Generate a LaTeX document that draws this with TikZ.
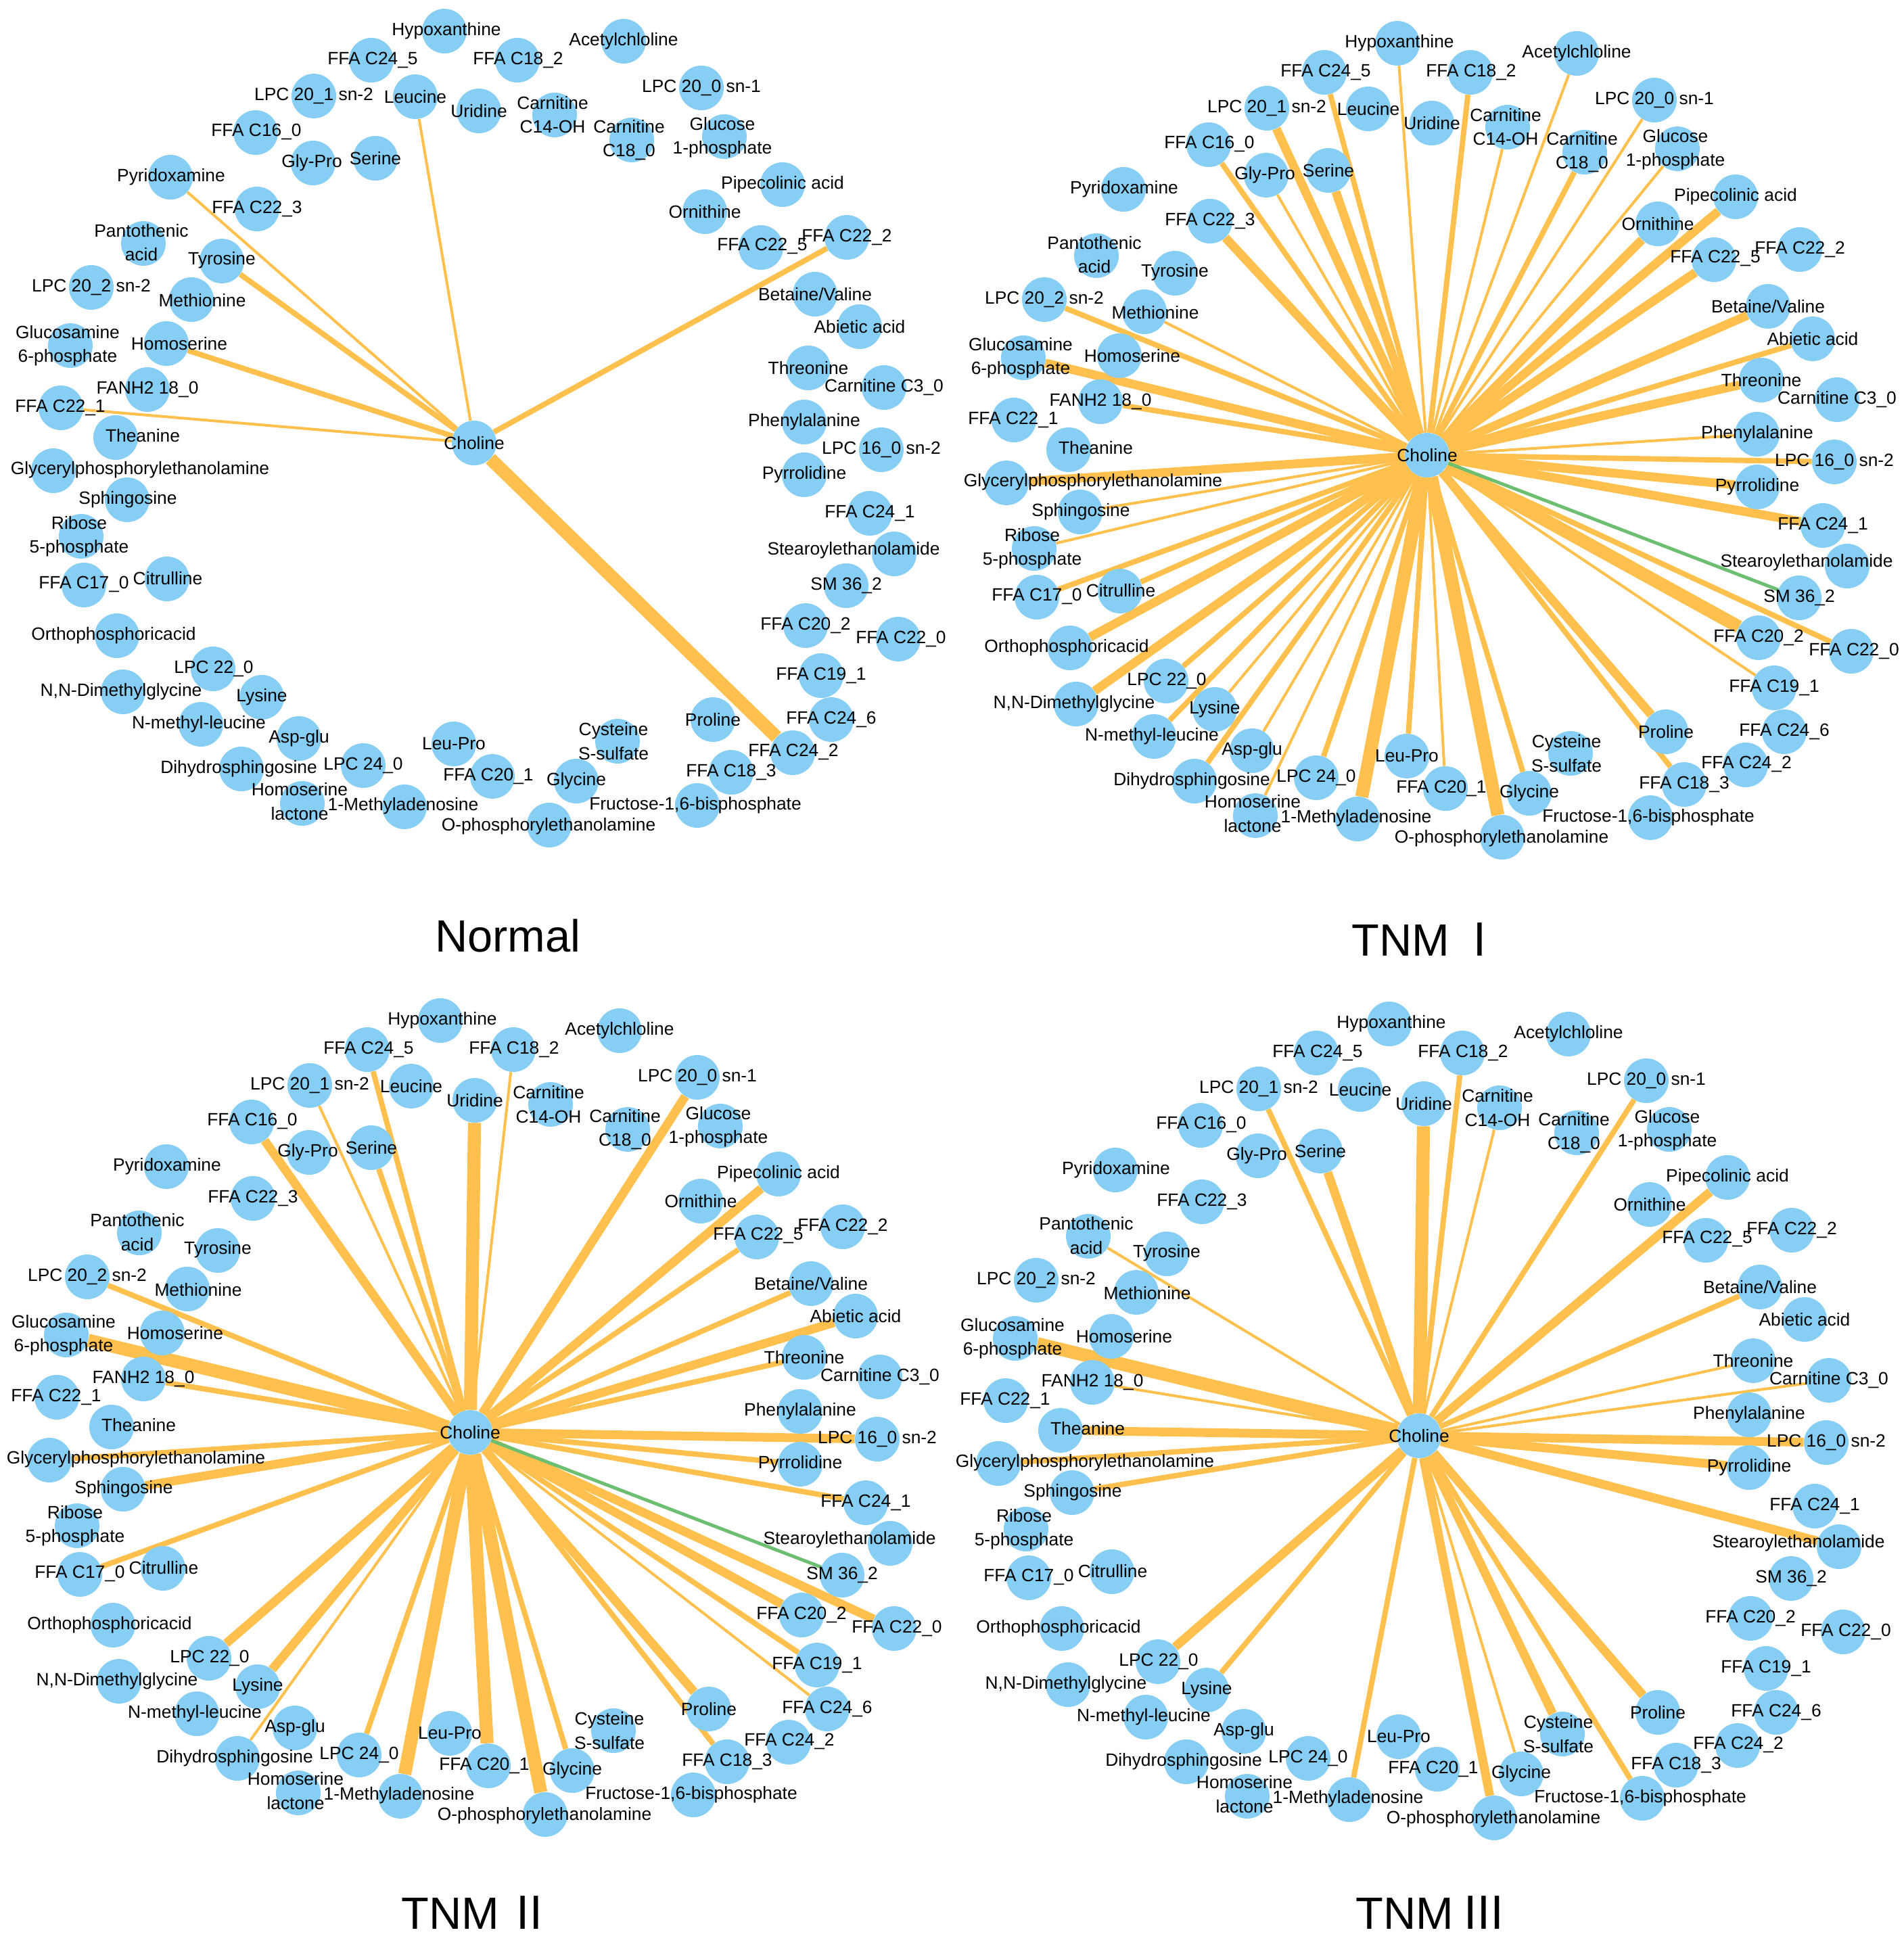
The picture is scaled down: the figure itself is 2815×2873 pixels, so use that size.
\documentclass[tikz,border=0pt]{standalone}
\usepackage{fontspec}
\setmainfont{Liberation Sans}
\newfontfamily\cjk{Noto Sans CJK SC}
\pgfdeclarelayer{bg}\pgfsetlayers{bg,main}
\begin{document}
\begin{tikzpicture}[x=0.02cm,y=-0.02cm,
  cir/.style={circle,fill=cb,draw=none,minimum size=1.32cm,inner sep=0pt},
  lab/.style={font=\fontsize{15}{20}\selectfont,align=center,inner sep=0pt},
  et/.style={draw=eo,line width=2.3pt},
  em/.style={draw=eo,line width=4.5pt},
  eT/.style={draw=eo,line width=7.4pt},
  eV/.style={draw=eo,line width=11pt},
  eg/.style={draw=eg,line width=2.8pt},
  ttl/.style={font=\fontsize{38}{44}\selectfont,inner sep=0pt}]
\definecolor{cb}{RGB}{135,206,245}
\definecolor{eo}{RGB}{255,192,77}
\definecolor{eg}{RGB}{108,190,112}
\useasboundingbox (0,0) rectangle (2815,2873);
\newcommand\nd[6]{\node[cir] (\pp#1) at (#2,#3) {}; \node[lab] at (#4,#5) {#6};}
\newcommand\allnodes{%
\nd{hyp}{657}{46}{660}{46}{Hypoxanthine}
\nd{fa}{549}{89}{551}{89}{FFA C24\_5}
\nd{fb}{765}{89}{766}{89}{FFA C18\_2}
\nd{ace}{922}{61}{922}{61}{Acetylchloline}
\nd{la}{464}{142}{464}{142}{LPC 20\_1 sn-2}
\nd{leu}{614}{143}{614}{143}{Leucine}
\nd{uri}{708}{164}{708}{164}{Uridine}
\nd{cfo}{820}{170}{817}{170}{Carnitine\\C14-OH}
\nd{lb}{1037}{130}{1037}{130}{LPC 20\_0 sn-1}
\nd{fc}{378}{196}{379}{195}{FFA C16\_0}
\nd{ceo}{934}{207}{930}{207}{Carnitine\\C18\_0}
\nd{glc}{1071}{202}{1068}{203}{Glucose\\1-phosphate}
\nd{gly}{463}{241}{461}{241}{Gly-Pro}
\nd{ser}{555}{234}{555}{234}{Serine}
\nd{pyr}{252}{262}{253}{262}{Pyridoxamine}
\nd{pip}{1157}{273}{1157}{273}{Pipecolinic acid}
\nd{fd}{380}{309}{380}{309}{FFA C22\_3}
\nd{orn}{1042}{313}{1042}{313}{Ornithine}
\nd{pan}{212}{360}{209}{359}{Pantothenic\\acid}
\nd{fe}{1125}{366}{1127}{364}{FFA C22\_5}
\nd{ff}{1252}{351}{1252}{351}{FFA C22\_2}
\nd{tyr}{328}{386}{328}{385}{Tyrosine}
\nd{lc}{135}{425}{135}{425}{LPC 20\_2 sn-2}
\nd{met}{283}{443}{299}{444}{Methionine}
\nd{bet}{1205}{435}{1205}{435}{Betaine/Valine}
\nd{abi}{1271}{483}{1271}{483}{Abietic acid}
\nd{gsm}{104}{511}{100}{511}{Glucosamine\\6-phosphate}
\nd{hom}{246}{508}{265}{508}{Homoserine}
\nd{thr}{1195}{544}{1195}{544}{Threonine}
\nd{fan}{218}{576}{218}{576}{FANH2 18\_0}
\nd{cth}{1307}{573}{1307}{573}{Carnitine C3\_0}
\nd{fg}{90}{603}{89}{603}{FFA C22\_1}
\nd{thea}{171}{647}{211}{644}{Theanine}
\nd{phe}{1189}{624}{1189}{624}{Phenylalanine}
\nd{ld}{1303}{665}{1303}{665}{LPC 16\_0 sn-2}
\nd{cho}{701}{655}{701}{655}{Choline}
\nd{gpe}{79}{696}{207}{695}{Glycerylphosphorylethanolamine}
\nd{pyrr}{1189}{702}{1189}{702}{Pyrrolidine}
\nd{sph}{188}{739}{189}{739}{Sphingosine}
\nd{fh}{1286}{759}{1286}{759}{FFA C24\_1}
\nd{rib}{120}{793}{117}{793}{Ribose\\5-phosphate}
\nd{ste}{1322}{819}{1262}{814}{Stearoylethanolamide}
\nd{sm}{1251}{866}{1251}{866}{SM 36\_2}
\nd{fi}{124}{865}{124}{864}{FFA C17\_0}
\nd{cit}{247}{856}{248}{855}{Citrulline}
\nd{orth}{173}{940}{168}{940}{Orthophosphoricacid}
\nd{fj}{1191}{925}{1191}{925}{FFA C20\_2}
\nd{fk}{1328}{945}{1332}{945}{FFA C22\_0}
\nd{le}{315}{989}{316}{989}{LPC 22\_0}
\nd{fl}{1214}{999}{1214}{999}{FFA C19\_1}
\nd{nnd}{182}{1023}{179}{1023}{N,N-Dimethylglycine}
\nd{lys}{387}{1031}{387}{1031}{Lysine}
\nd{nml}{297}{1071}{294}{1071}{N-methyl-leucine}
\nd{pro}{1054}{1064}{1054}{1064}{Proline}
\nd{fm}{1229}{1064}{1229}{1064}{FFA C24\_6}
\nd{asp}{442}{1092}{442}{1092}{Asp-glu}
\nd{cys}{913}{1096}{907}{1096}{Cysteine\\S-sulfate}
\nd{lpro}{671}{1100}{671}{1100}{Leu-Pro}
\nd{fn}{1172}{1113}{1173}{1112}{FFA C24\_2}
\nd{dih}{357}{1137}{353}{1137}{Dihydrosphingosine}
\nd{lf}{537}{1132}{537}{1132}{LPC 24\_0}
\nd{fo}{728}{1148}{722}{1148}{FFA C20\_1}
\nd{glyc}{852}{1155}{852}{1155}{Glycine}
\nd{fp}{1081}{1142}{1081}{1142}{FFA C18\_3}
\nd{hl}{447}{1188}{443}{1185}{Homoserine\\lactone}
\nd{mad}{598}{1193}{596}{1192}{1-Methyladenosine}
\nd{fru}{1031}{1191}{1028}{1191}{Fructose-1,6-bisphosphate}
\nd{ope}{812}{1220}{811}{1222}{O-phosphorylethanolamine}
}
\newcommand\edges[1]{\begin{pgfonlayer}{bg}\foreach \tg/\ww in {#1} {\draw[e\ww] (\pp cho) -- (\pp\tg);}\end{pgfonlayer}}
% Normal
\begin{scope}
\def\pp{a}
\allnodes
\edges{leu/t,pyr/t,tyr/m,hom/m,fg/t,ff/m,fn/V}
\end{scope}
% TNM I
\begin{scope}[shift={(1409,18)}]
\def\pp{b}
\allnodes
\edges{hyp/t,fa/m,la/T,fc/m,gly/t,ser/T,fd/T,met/t,lc/m,gsm/T,fan/m,gpe/T,sph/t,rib/t,fi/m,cit/m,orth/T,le/m,nnd/T,lys/t,nml/m,asp/t,dih/m,hl/t,lf/m,mad/V,lpro/m,fb/m,ace/t,cfo/t,ceo/m,lb/t,glc/t,orn/T,pip/T,fe/T,bet/T,abi/m,thr/T,phe/t,ld/m,pyrr/T,fh/T,fj/V,fk/m,fl/t,pro/T,fp/m,glyc/m,ope/V,fo/t,sm/g}
\end{scope}
% TNM II
\begin{scope}[shift={(-6,1463)}]
\def\pp{c}
\allnodes
\edges{fa/m,la/t,fc/T,ser/m,uri/V,lc/m,gsm/V,fan/m,gpe/m,sph/T,fi/m,le/T,lys/T,dih/t,lf/m,mad/V,fb/t,lb/T,pip/T,fe/m,bet/m,abi/T,thr/m,ld/T,pyrr/m,fh/m,fk/T,fj/T,fl/m,fm/t,pro/T,fp/m,glyc/m,ope/V,fo/V,sm/g}
\end{scope}
% TNM III
\begin{scope}[shift={(1397,1468)}]
\def\pp{d}
\allnodes
\edges{la/m,ser/T,uri/V,pan/t,gsm/V,fan/t,thea/T,gpe/m,sph/m,le/T,lys/m,mad/m,fb/m,cfo/t,lb/m,pip/T,bet/m,thr/t,cth/t,ld/T,pyrr/T,ste/T,pro/T,cys/T,fru/m,glyc/t,ope/T}
\end{scope}
\node[ttl] (t1) at (751,1384) {Normal};
\node[ttl] (t2) at (2110,1389) {TNM\,{\cjk Ⅰ}};
\node[ttl] (t3) at (705,2828) {TNM\,{\cjk Ⅱ}};
\node[ttl] (t4) at (2116,2828) {TNM\,{\cjk Ⅲ}};
\end{tikzpicture}
\end{document}
